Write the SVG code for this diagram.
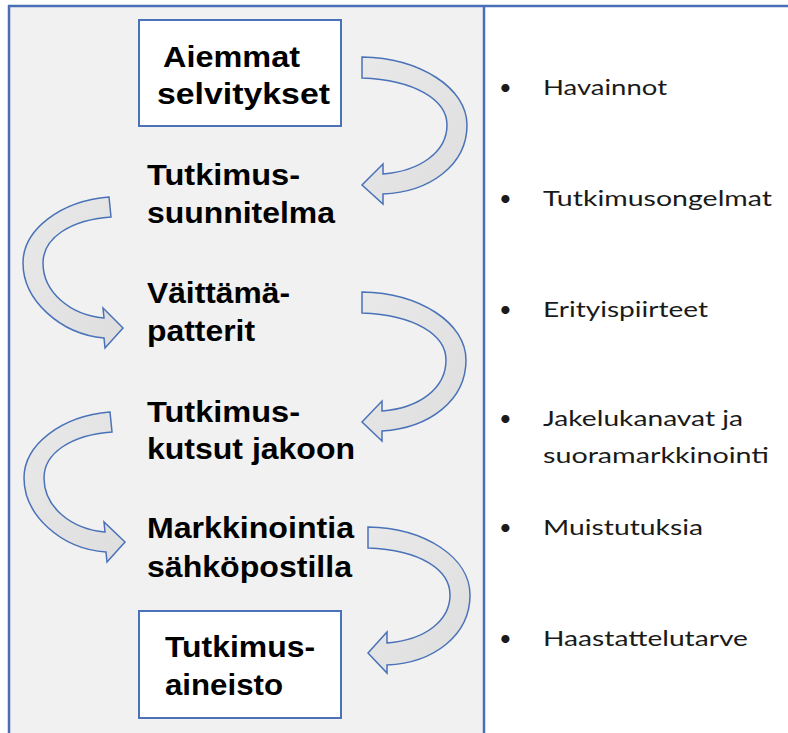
<svg xmlns="http://www.w3.org/2000/svg" width="788" height="733" viewBox="0 0 788 733">
<style>
.frame{stroke:#4a6fb8;stroke-width:2.5;fill:none}
.box{fill:#ffffff;stroke:#4a72b8;stroke-width:2}
.lbl{font-family:"Liberation Sans",Arial,sans-serif;font-weight:bold;font-size:29px;fill:#000}
.item{font-family:Lato,"Open Sans",sans-serif;font-size:22px;fill:#1a1a1a}
.arrow{fill:url(#ag);stroke:#4a72b8;stroke-width:1.5;stroke-linejoin:miter}
</style>
<defs>
<linearGradient id="ag" x1="0" y1="0" x2="1" y2="1">
<stop offset="0" stop-color="#e9e9e9"/>
<stop offset="1" stop-color="#dedede"/>
</linearGradient>
</defs>
<rect x="0" y="0" width="788" height="733" fill="#ffffff"/>
<rect x="9" y="6" width="475" height="727" fill="#f1f1f1"/>
<g id="frame">
<line class="frame" x1="8" y1="6" x2="788" y2="6"/>
<line class="frame" x1="9" y1="5" x2="9" y2="733"/>
<line class="frame" x1="484" y1="5" x2="484" y2="733"/>
</g>
<g id="connectors">
<path class="arrow" d="M362,57 C420,58 467,88 467,125 C467,165 430,192 383,194 L383,204 L362,185 L383,164 L383,174 C420,171 447,152 447,125 C447,100 415,80 362,78 Z"/>
<path class="arrow" d="M109,197 C60,201 23,230 23,263 C23,300 60,334 104,338 L105,348 L123,328 L103,308 L104,318 C70,315 43,292 43,263 C43,238 70,220 111,217 Z"/>
<path class="arrow" d="M362,292 C420,293 466,323 466,360 C466,400 430,428 382,431 L382,441 L362,422 L382,401 L382,411 C420,408 446,388 446,360 C446,335 415,315 362,313 Z"/>
<path class="arrow" d="M110,412 C61,416 24,445 24,478 C24,515 61,549 106,552 L107,562 L125,542 L104,522 L105,532 C71,529 44,507 44,478 C44,453 71,435 112,432 Z"/>
<path class="arrow" d="M368,527 C426,528 470,558 470,595 C470,635 434,663 387,665 L387,673 L368,653 L387,632 L387,643 C426,640 450,620 450,595 C450,570 421,550 368,548 Z"/>
</g>
<g id="n1">
<rect class="box" x="139" y="20" width="202" height="106"/>
<text class="lbl" x="163" y="67" textLength="137" lengthAdjust="spacingAndGlyphs">Aiemmat</text>
<text class="lbl" x="157" y="104" textLength="173" lengthAdjust="spacingAndGlyphs">selvitykset</text>
</g>
<g id="n2">
<text class="lbl" x="147" y="185" textLength="153" lengthAdjust="spacingAndGlyphs">Tutkimus-</text>
<text class="lbl" x="147" y="223" textLength="188" lengthAdjust="spacingAndGlyphs">suunnitelma</text>
</g>
<g id="n3">
<text class="lbl" x="147" y="303" textLength="143" lengthAdjust="spacingAndGlyphs">Väittämä-</text>
<text class="lbl" x="147" y="341" textLength="108" lengthAdjust="spacingAndGlyphs">patterit</text>
</g>
<g id="n4">
<text class="lbl" x="147" y="422" textLength="153" lengthAdjust="spacingAndGlyphs">Tutkimus-</text>
<text class="lbl" x="147" y="459" textLength="208" lengthAdjust="spacingAndGlyphs">kutsut jakoon</text>
</g>
<g id="n5">
<text class="lbl" x="147" y="538" textLength="207" lengthAdjust="spacingAndGlyphs">Markkinointia</text>
<text class="lbl" x="147" y="577" textLength="205" lengthAdjust="spacingAndGlyphs">sähköpostilla</text>
</g>
<g id="n6">
<rect class="box" x="139" y="611" width="202" height="107"/>
<text class="lbl" x="165" y="657" textLength="150" lengthAdjust="spacingAndGlyphs">Tutkimus-</text>
<text class="lbl" x="165" y="695" textLength="118" lengthAdjust="spacingAndGlyphs">aineisto</text>
</g>
<g id="list">
<text class="item" x="499" y="95">•</text>
<text class="item" x="543" y="95" textLength="124" lengthAdjust="spacingAndGlyphs">Havainnot</text>
<text class="item" x="499" y="206">•</text>
<text class="item" x="543" y="206" textLength="229" lengthAdjust="spacingAndGlyphs">Tutkimusongelmat</text>
<text class="item" x="499" y="317">•</text>
<text class="item" x="543" y="317" textLength="165" lengthAdjust="spacingAndGlyphs">Erityispiirteet</text>
<text class="item" x="499" y="426">•</text>
<text class="item" x="543" y="426" textLength="200" lengthAdjust="spacingAndGlyphs">Jakelukanavat ja</text>
<text class="item" x="543" y="463" textLength="226" lengthAdjust="spacingAndGlyphs">suoramarkkinointi</text>
<text class="item" x="499" y="535">•</text>
<text class="item" x="543" y="535" textLength="160" lengthAdjust="spacingAndGlyphs">Muistutuksia</text>
<text class="item" x="499" y="646">•</text>
<text class="item" x="543" y="646" textLength="205" lengthAdjust="spacingAndGlyphs">Haastattelutarve</text>
</g>
</svg>
